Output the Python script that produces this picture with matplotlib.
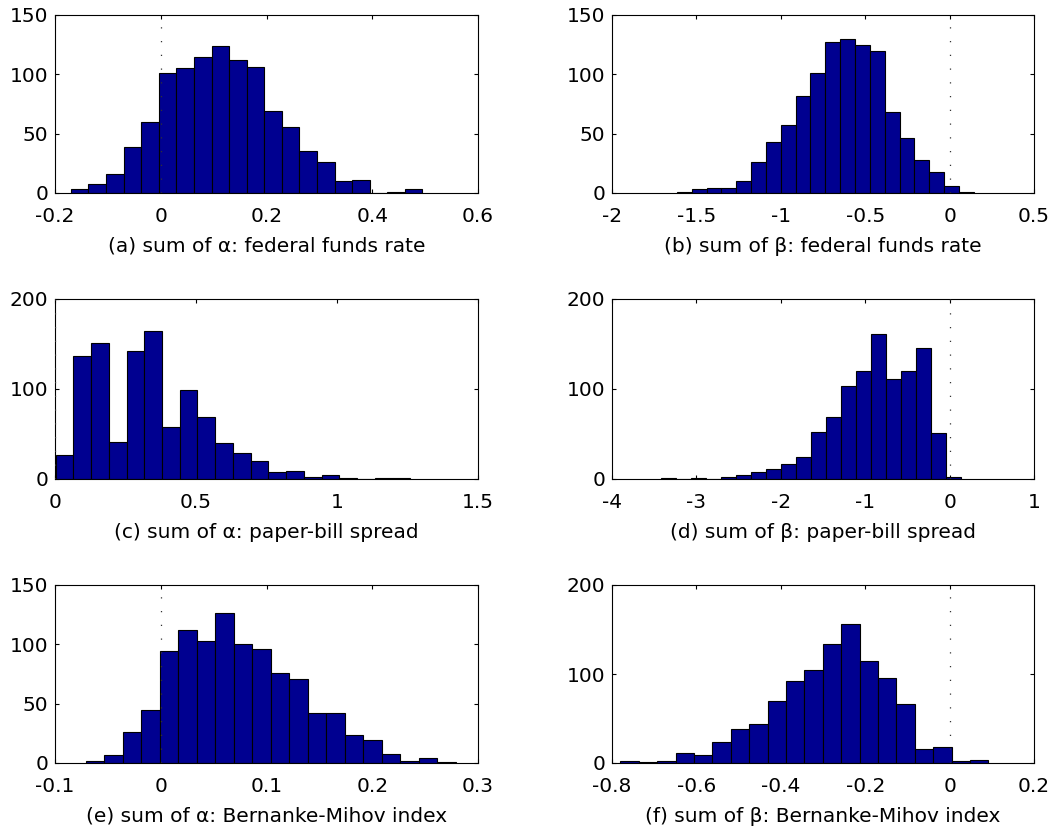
import numpy as np
import matplotlib
matplotlib.use("Agg")
import matplotlib.pyplot as plt

plt.rcParams["font.family"] = ["DejaVu Sans"]
plt.rcParams["axes.unicode_minus"] = False

# counts, 20 bins per panel (bin range lo..hi)
counts_a = [3, 8, 16, 39, 60, 101, 105, 115, 124, 112, 106, 69, 56, 35, 26, 10, 11, 0, 1, 3]
range_a = (-0.170, 0.495)
counts_b = [1, 3, 4, 4, 10, 26, 43, 57, 82, 101, 127, 130, 125, 120, 68, 46, 28, 18, 6, 1]
range_b = (-1.6155, 0.143)
counts_c = [27, 137, 151, 41, 142, 164, 58, 99, 69, 40, 29, 20, 8, 9, 2, 4, 1, 0, 1, 1]
range_c = (0.002, 1.260)
counts_d = [1, 0, 1, 0, 2, 5, 8, 11, 17, 25, 52, 69, 103, 120, 161, 111, 120, 146, 51, 2]
range_d = (-3.416, 0.140)
counts_e = [2, 7, 26, 45, 94, 112, 103, 126, 100, 96, 76, 71, 42, 42, 24, 19, 8, 2, 4, 1]
range_e = (-0.0707, 0.2789)
counts_f = [2, 1, 2, 11, 9, 24, 38, 44, 70, 92, 105, 134, 156, 115, 96, 66, 16, 18, 2, 3]
range_f = (-0.780, 0.092)

labels = [
    "(a) sum of \u03b1: federal funds rate",
    "(b) sum of \u03b2: federal funds rate",
    "(c) sum of \u03b1: paper-bill spread",
    "(d) sum of \u03b2: paper-bill spread",
    "(e) sum of \u03b1: Bernanke-Mihov index",
    "(f) sum of \u03b2: Bernanke-Mihov index",
]
xticks_all = [
    [-0.2, 0, 0.2, 0.4, 0.6],
    [-2, -1.5, -1, -0.5, 0, 0.5],
    [0, 0.5, 1, 1.5],
    [-4, -3, -2, -1, 0, 1],
    [-0.1, 0, 0.1, 0.2, 0.3],
    [-0.8, -0.6, -0.4, -0.2, 0, 0.2],
]
yticks_all = [
    [0, 50, 100, 150],
    [0, 50, 100, 150],
    [0, 100, 200],
    [0, 100, 200],
    [0, 50, 100, 150],
    [0, 100, 200],
]
panels = [
    (counts_a, range_a), (counts_b, range_b), (counts_c, range_c),
    (counts_d, range_d), (counts_e, range_e), (counts_f, range_f),
]

W, H = 1058, 832
fig = plt.figure(figsize=(W / 100, H / 100), dpi=100)

col_x = [55, 612]
col_w = [423, 422]
row_top = [15, 299, 585]
row_h = [178, 180, 178]

for i, ((counts, (lo, hi)), lab, xt, yt) in enumerate(zip(panels, labels, xticks_all, yticks_all)):
    r, c = divmod(i, 2)
    ax = fig.add_axes([col_x[c] / W, 1 - (row_top[r] + row_h[r]) / H,
                       col_w[c] / W, row_h[r] / H])
    edges = np.linspace(lo, hi, len(counts) + 1)
    ax.bar(edges[:-1], counts, width=np.diff(edges), align="edge",
           color="#000090", edgecolor="black", linewidth=0.8, zorder=2)
    ax.axvline(0, color="#333333", linestyle=(0, (1, 10)), linewidth=0.9, zorder=3)
    ax.set_xlim(xt[0], xt[-1])
    ax.set_ylim(yt[0], yt[-1])
    ax.set_xticks(xt)
    ax.set_xticklabels([f"{v:g}" for v in xt])
    ax.set_yticks(yt)
    ax.set_yticklabels([f"{v:g}" for v in yt])
    ax.tick_params(direction="in", top=True, right=True, length=3, width=0.8,
                   labelsize=14.5)
    ax.tick_params(axis="x", pad=10)
    ax.tick_params(axis="y", pad=5)
    for s in ax.spines.values():
        s.set_linewidth(0.8)
    ax.set_xlabel(lab, fontsize=14.5, labelpad=8)

fig.savefig("out.png", dpi=100)
